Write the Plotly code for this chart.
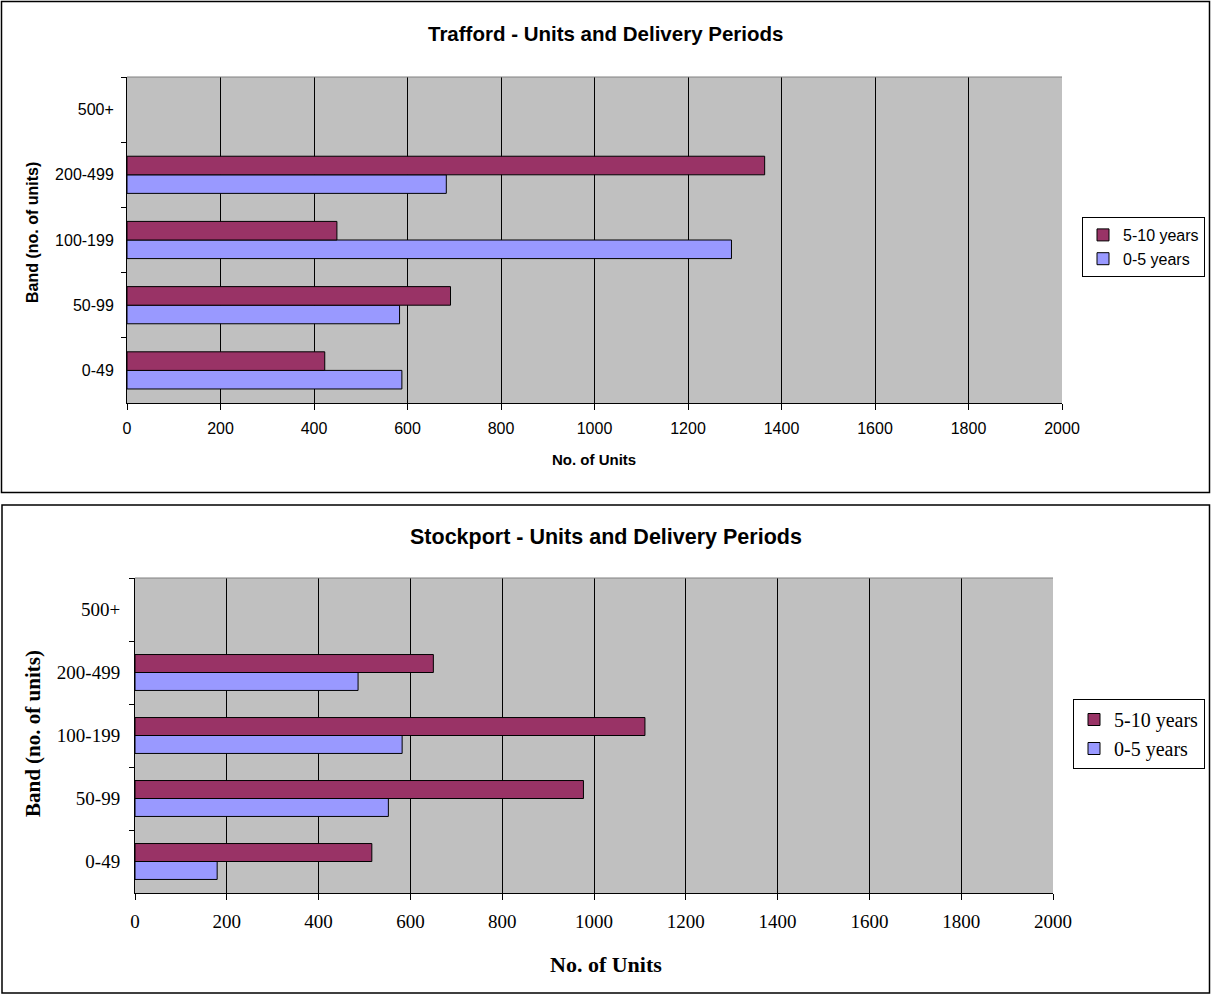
import plotly.graph_objects as go

# Housing bands and delivery-period totals (units)
bands = ["0-49", "50-99", "100-199", "200-499", "500+"]
trafford_0_5 = [588, 583, 1293, 683, None]
trafford_5_10 = [423, 692, 449, 1364, None]
stockport_0_5 = [179, 552, 582, 486, None]
stockport_5_10 = [516, 977, 1111, 650, None]
series_names = ["0-5 years", "5-10 years"]
x_ticks = list(range(0, 2001, 200))

W, H = 1211, 994


def px(x):
    return x / W


def py(y):
    return 1 - y / H


BLUE = "#9999FF"
PLUM = "#993366"
GREY = "#C0C0C0"
SANS = "Liberation Sans, Arial, sans-serif"
SERIF = "Liberation Serif, Times New Roman, serif"

fig = go.Figure()

panels = [
    dict(xa="x", ya="y", leg="legend", data=(trafford_0_5, trafford_5_10)),
    dict(xa="x2", ya="y2", leg="legend2", data=(stockport_0_5, stockport_5_10)),
]
for p in panels:
    for name, vals, col in zip(series_names, p["data"], (BLUE, PLUM)):
        fig.add_trace(go.Bar(
            y=bands, x=vals, orientation="h", name=name,
            marker=dict(color=col, line=dict(color="black", width=1)),
            xaxis=p["xa"], yaxis=p["ya"], legend=p["leg"],
            hoverinfo="skip",
        ))


def x_axis(domain, anchor, font, size, standoff):
    return dict(
        domain=domain, anchor=anchor, range=[0, 2000], tickvals=x_ticks,
        showgrid=True, gridcolor="black", gridwidth=1, zeroline=False,
        ticks="outside", ticklen=6, tickcolor="black", tickwidth=1,
        ticklabelstandoff=standoff,
        showline=True, linecolor="black", linewidth=1,
        tickfont=dict(family=font, size=size, color="black"), fixedrange=True,
    )


def y_axis(domain, anchor, font, size, standoff):
    return dict(
        domain=domain, anchor=anchor, type="category",
        categoryorder="array", categoryarray=bands, range=[-0.5, 4.5],
        tickson="boundaries", ticks="outside", ticklen=5, tickcolor="black",
        ticklabelstandoff=standoff,
        showline=True, linecolor="black", linewidth=1, showgrid=False,
        zeroline=False, tickfont=dict(family=font, size=size, color="black"),
        fixedrange=True,
    )


# plot-area geometry (pixels)
T = dict(l=127, r=1062, t=77, b=403)
S = dict(l=135, r=1053, t=578, b=893)

shapes = []
for g in (T, S):
    shapes.append(dict(type="line", xref="paper", yref="paper",
                       x0=px(g["l"]), x1=px(g["r"]), y0=py(g["t"]), y1=py(g["t"]),
                       line=dict(color="#808080", width=1)))
# outer chart frames
shapes.append(dict(type="rect", xref="paper", yref="paper",
                   x0=px(1.5), x1=px(1209.5), y0=py(1.5), y1=py(492.5),
                   line=dict(color="black", width=1.5)))
shapes.append(dict(type="rect", xref="paper", yref="paper",
                   x0=px(2), x1=px(1209.5), y0=py(505), y1=py(993),
                   line=dict(color="black", width=1.5)))

annotations = [
    dict(text="<b>Trafford - Units and Delivery Periods</b>", x=px(605), y=py(33),
         font=dict(family=SANS, size=20.5, color="black")),
    dict(text="<b>No. of Units</b>", x=px(594), y=py(459),
         font=dict(family=SANS, size=15, color="black")),
    dict(text="<b>Band (no. of units)</b>", x=px(32), y=py(233), textangle=-90,
         font=dict(family=SANS, size=16, color="black")),
    dict(text="<b>Stockport - Units and Delivery Periods</b>", x=px(606), y=py(537),
         font=dict(family=SANS, size=21.5, color="black")),
    dict(text="<b>No. of Units</b>", x=px(606), y=py(964),
         font=dict(family=SERIF, size=22, color="black")),
    dict(text="<b>Band (no. of units)</b>", x=px(33), y=py(734), textangle=-90,
         font=dict(family=SERIF, size=21, color="black")),
]
for a in annotations:
    a.update(xref="paper", yref="paper", showarrow=False,
             xanchor="center", yanchor="middle")

fig.update_layout(
    width=W, height=H, autosize=False,
    margin=dict(l=0, r=0, t=0, b=0, autoexpand=False),
    paper_bgcolor="white", plot_bgcolor=GREY,
    barmode="group", bargap=0.43, bargroupgap=0,
    xaxis=x_axis([px(T["l"]), px(T["r"])], "y", SANS, 16, 5),
    yaxis=y_axis([py(T["b"]), py(T["t"])], "x", SANS, 16, 9),
    xaxis2=x_axis([px(S["l"]), px(S["r"])], "y2", SERIF, 19, 5),
    yaxis2=y_axis([py(S["b"]), py(S["t"])], "x2", SERIF, 19, 10),
    legend=dict(x=px(1205), y=py(247), xanchor="right", yanchor="middle",
                bgcolor="white", bordercolor="black", borderwidth=1,
                traceorder="reversed", font=dict(family=SANS, size=16, color="black")),
    legend2=dict(x=px(1205), y=py(734), xanchor="right", yanchor="middle",
                 bgcolor="white", bordercolor="black", borderwidth=1,
                 traceorder="reversed", font=dict(family=SERIF, size=20, color="black")),
    shapes=shapes, annotations=annotations, showlegend=True,
)

fig.write_html(
    "out.html",
    config={"responsive": False, "displayModeBar": False},
    post_script="document.body.style.margin='0';document.body.style.overflow='hidden';",
)
